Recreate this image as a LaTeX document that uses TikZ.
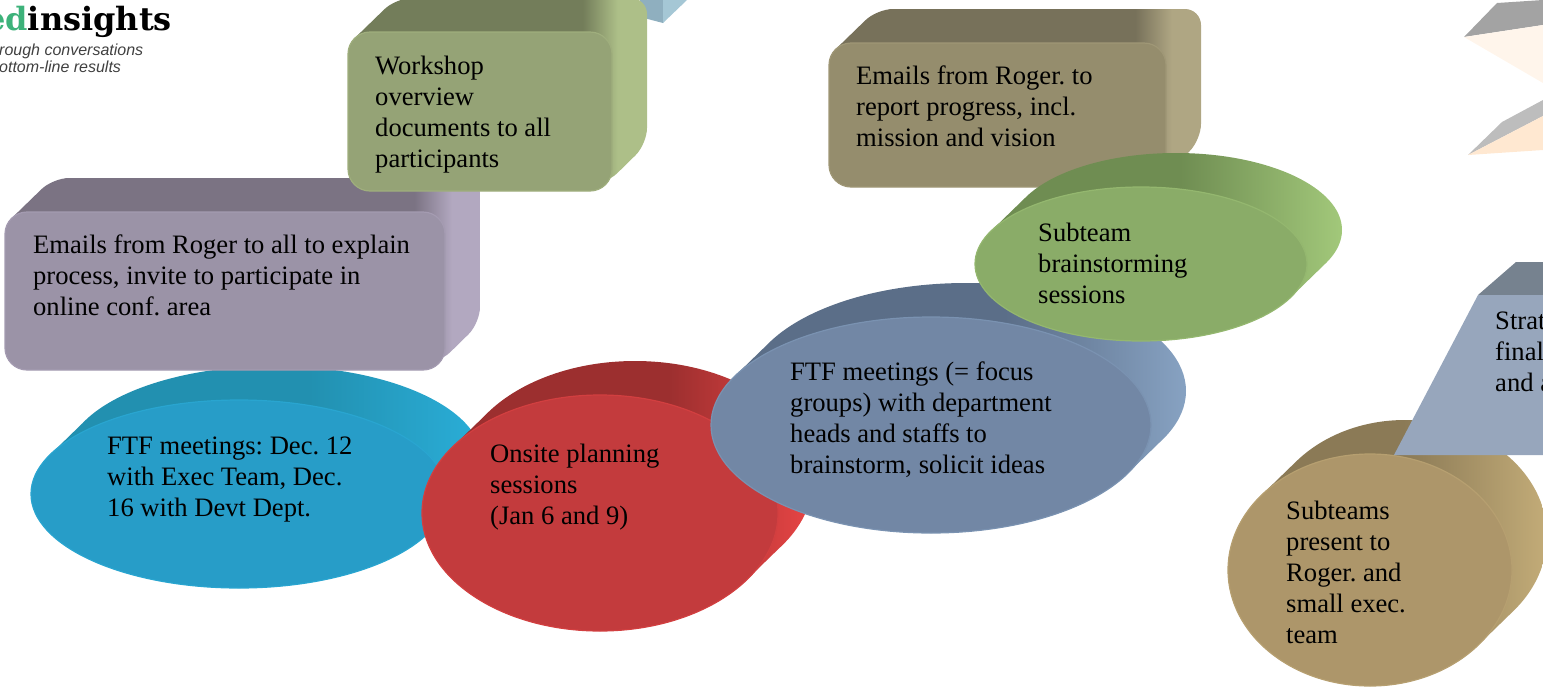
\documentclass[tikz,border=0pt]{standalone}
\usepackage{fontspec}
\usetikzlibrary{shapes.geometric}
\setmainfont{Liberation Serif}
\newfontfamily\logofont{DejaVu Serif}
\newfontfamily\taglinefont{Liberation Sans}
\frenchspacing

% colours: front, top face, right face
\definecolor{purple_front}{HTML}{9B93A7}
\definecolor{purple_top}{HTML}{7B7383}
\definecolor{purple_right}{HTML}{B2A8C0}
\definecolor{olive_front}{HTML}{95A376}
\definecolor{olive_top}{HTML}{737D5A}
\definecolor{olive_right}{HTML}{ADBF88}
\definecolor{khaki_front}{HTML}{958D6D}
\definecolor{khaki_top}{HTML}{77715A}
\definecolor{khaki_right}{HTML}{AFA683}
\definecolor{green_front}{HTML}{8AAC68}
\definecolor{green_top}{HTML}{6F8D52}
\definecolor{green_right}{HTML}{A2C87A}
\definecolor{slate_front}{HTML}{7287A5}
\definecolor{slate_top}{HTML}{5B6E88}
\definecolor{slate_right}{HTML}{87A2C2}
\definecolor{red_front}{HTML}{C33B3D}
\definecolor{red_top}{HTML}{9C2F2F}
\definecolor{red_right}{HTML}{E84545}
\definecolor{blue_front}{HTML}{279DC8}
\definecolor{blue_top}{HTML}{2290B0}
\definecolor{blue_right}{HTML}{2AAED8}
\definecolor{gold_front}{HTML}{AD966A}
\definecolor{gold_top}{HTML}{8B7A56}
\definecolor{gold_right}{HTML}{C3AC78}

\pgfdeclarehorizontalshading{purple_side}{100bp}{color(0bp)=(purple_top); color(68bp)=(purple_top); color(72bp)=(purple_right); color(100bp)=(purple_right)}
\pgfdeclarehorizontalshading{olive_side}{100bp}{color(0bp)=(olive_top); color(64bp)=(olive_top); color(70bp)=(olive_right); color(100bp)=(olive_right)}
\pgfdeclarehorizontalshading{khaki_side}{100bp}{color(0bp)=(khaki_top); color(66bp)=(khaki_top); color(71bp)=(khaki_right); color(100bp)=(khaki_right)}
\pgfdeclarehorizontalshading{green_side}{100bp}{color(0bp)=(green_top); color(52bp)=(green_top); color(75bp)=(green_right); color(100bp)=(green_right)}
\pgfdeclarehorizontalshading{slate_side}{100bp}{color(0bp)=(slate_top); color(55bp)=(slate_top); color(75bp)=(slate_right); color(100bp)=(slate_right)}
\pgfdeclarehorizontalshading{red_side}{100bp}{color(0bp)=(red_top); color(55bp)=(red_top); color(75bp)=(red_right); color(100bp)=(red_right)}
\pgfdeclarehorizontalshading{blue_side}{100bp}{color(0bp)=(blue_top); color(55bp)=(blue_top); color(75bp)=(blue_right); color(100bp)=(blue_right)}
\pgfdeclarehorizontalshading{gold_side}{100bp}{color(0bp)=(gold_top); color(50bp)=(gold_top); color(75bp)=(gold_right); color(100bp)=(gold_right)}

\begin{document}
\begin{tikzpicture}[x=1pt,y=-1pt]
	\tikzstyle{oval_face} = [ellipse, draw, line width=1.2pt, inner sep=0pt]
	\tikzstyle{box_face} = [rectangle, rounded corners=22pt, draw, line width=1.2pt, inner sep=0pt]
	\tikzstyle{label_text} = [anchor=north west, inner sep=0pt, align=left, font=\fontsize{26.6}{31}\selectfont]
	\tikzstyle{tag_text} = [anchor=west, inner sep=0pt, text=black!75, font=\fontsize{16}{18}\taglinefont\itshape]

	\useasboundingbox (0,0) rectangle (1543,686);

	% Logo
	\node (logo_word) [anchor=west, inner sep=0pt, font=\fontsize{32}{34}\logofont\bfseries] at (-15,22) {\textcolor[HTML]{3DB27A}{ed}insights};
	\node (logo_line_a) [tag_text] at (-1,51) {rough conversations};
	\node (logo_line_b) [tag_text] at (-1,67) {ottom-line results};

	% Shapes at the top right
	\fill[black!36] (1464,37) -- (1497,3) -- (1543,0) -- (1543,25) -- cycle;
	\fill[orange!8] (1464,37) -- (1543,25) -- (1543,83) -- cycle;
	\fill[black!26] (1468,155) -- (1502,122) -- (1543,100) -- (1543,116) -- cycle;
	\fill[orange!18] (1468,155) -- (1543,116) -- (1543,150) -- cycle;

	% Box cut off by the top edge
	\fill[color={rgb,255:red,143;green,175;blue,191}] (640,0) -- (663,0) -- (663,23) -- (640,17) -- cycle;
	\fill[color={rgb,255:red,165;green,199;blue,213}] (663,0) -- (687,0) -- (663,23) -- cycle;

	% Blue oval
	\path[shading=blue_side] (274,460) ellipse [x radius=208, y radius=94]
		(428.5,532.7) -- (49.5,455.3) -- (84.5,421.3) -- (463.5,498.7) -- cycle;
	\node (blue_face) [oval_face, minimum width=416pt, minimum height=188pt, fill=blue_front, draw=blue_right!50!blue_front] at (239,494) {};
	\node (blue_text) [label_text] at (107,437) {FTF meetings: Dec. 12\\with Exec Team, Dec.\\16 with Devt Dept.};

	% Purple box
	\path[shading=purple_side] (11.4,218.4) [rounded corners=16pt] -- (53,178) -- (480,178) -- (480,323) -- (438.6,363.6) [sharp corners] -- (40,340) -- cycle;
	\node (purple_face) [box_face, minimum width=440pt, minimum height=158pt, fill=purple_front, draw=purple_right!40!purple_front] at (225,291) {};
	\node (purple_text) [label_text] at (33,235) {Emails from Roger to all to explain\\process, invite to participate in\\online conf. area};

	% Olive box
	\path[shading=olive_side] (354.4,38.4) [rounded corners=16pt] -- (396,-2) -- (647,-2) -- (647,144) -- (605.6,184.6) [sharp corners] -- (370,170) -- cycle;
	\node (olive_face) [box_face, minimum width=264pt, minimum height=159pt, fill=olive_front, draw=olive_right!40!olive_front] at (480,111.5) {};
	\node (olive_text) [label_text] at (375,55.5) {Workshop\\overview\\documents to all\\participants};

	% Red oval
	\path[shading=red_side] (635,479) ellipse [x radius=178, y radius=118]
		(748.3,578.2) -- (451.7,447.8) -- (486.7,413.8) -- (783.3,544.2) -- cycle;
	\node (red_face) [oval_face, minimum width=356pt, minimum height=236pt, fill=red_front, draw=red_right!40!red_front] at (600,513) {};
	\node (red_text) [label_text] at (490,444) {Onsite planning\\sessions\\(Jan 6 and 9)};

	% Khaki box
	\path[shading=khaki_side] (835.4,49.4) [rounded corners=16pt] -- (877,9) -- (1201,9) -- (1201,140) -- (1159.6,180.6) [sharp corners] -- (850,170) -- cycle;
	\node (khaki_face) [box_face, minimum width=337pt, minimum height=144pt, fill=khaki_front, draw=khaki_right!40!khaki_front] at (997.5,115) {};
	\node (khaki_text) [label_text] at (856,66) {Emails from Roger. to\\report progress, incl.\\mission and vision};

	% Slate oval
	\path[shading=slate_side] (966,391) ellipse [x radius=220, y radius=108]
		(1128.5,472.6) -- (733.5,377.4) -- (768.5,343.4) -- (1163.5,438.6) -- cycle;
	\node (slate_face) [oval_face, minimum width=440pt, minimum height=216pt, fill=slate_front, draw=slate_right!40!slate_front] at (931,425) {};
	\node (slate_text) [label_text] at (790,362) {FTF meetings (= focus\\groups) with department\\heads and staffs to\\brainstorm, solicit ideas};

	% Green oval
	\path[shading=green_side] (1176,230) ellipse [x radius=166, y radius=77]
		(1291.6,296.4) -- (990.4,231.6) -- (1025.4,197.6) -- (1326.6,262.4) -- cycle;
	\node (green_face) [oval_face, minimum width=332pt, minimum height=154pt, fill=green_front, draw=green_right!40!green_front] at (1141,264) {};
	\node (green_text) [label_text] at (1038,223) {Subteam\\brainstorming\\sessions};

	% Gold oval
	\path[shading=gold_side] (1405,536) ellipse [x radius=142, y radius=116]
		(1480,643.4) -- (1260,496.6) -- (1295,462.6) -- (1515,609.4) -- cycle;
	\node (gold_face) [oval_face, minimum width=284pt, minimum height=232pt, fill=gold_front, draw=gold_right!40!gold_front] at (1370,570) {};
	\node (gold_text) [label_text] at (1286,501) {Subteams\\present to\\Roger. and\\small exec.\\team};

	% Strategy trapezoid
	\fill[color={rgb,255:red,118;green,130;blue,143}] (1478,295) -- (1516,262) -- (1543,262) -- (1543,295) -- cycle;
	\fill[color={rgb,255:red,151;green,166;blue,188}] (1478,295) -- (1394,455) -- (1543,455) -- (1543,295) -- cycle;
	\node (strat_text) [label_text] at (1495,312) {Strat\\final\\and a};
\end{tikzpicture}
\end{document}
